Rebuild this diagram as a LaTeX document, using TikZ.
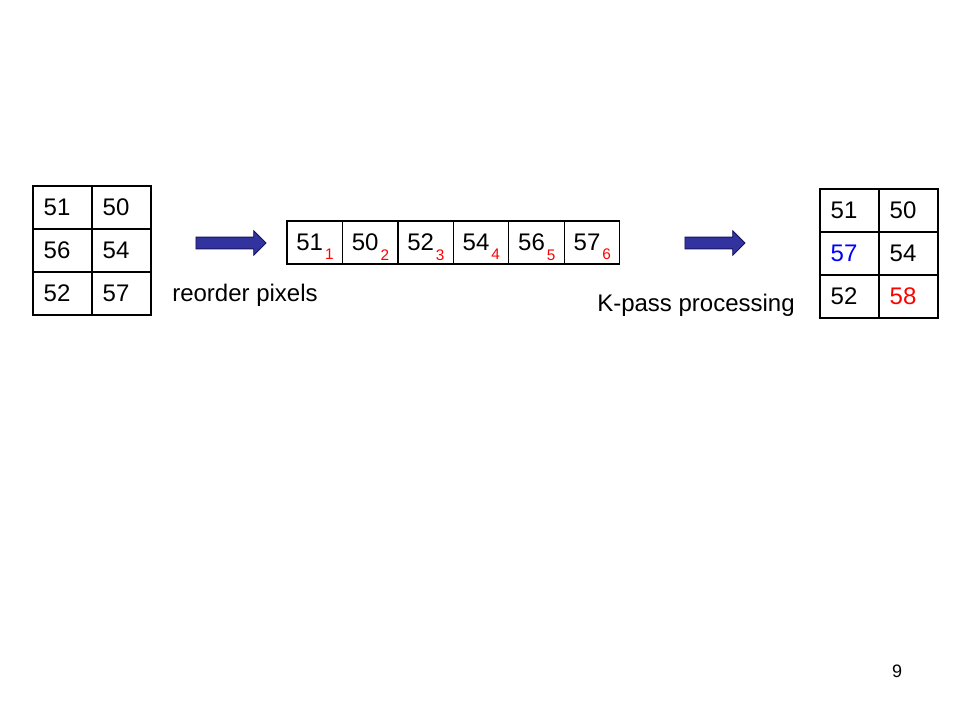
\documentclass[tikz,border=0pt]{standalone}
\usepackage{fontspec}
\setmainfont{Liberation Sans}
\usetikzlibrary{positioning,shapes.arrows}
\definecolor{arrowblue}{RGB}{51,51,160}
\definecolor{arrowedge}{RGB}{20,20,90}

\tikzset{
	cell/.style={draw, line width=0.9pt, outer sep=0pt, inner xsep=8pt, inner ysep=0pt,
		text width=28.25pt, minimum height=32.25pt, align=left, font=\fontsize{18}{21}\selectfont},
	seqcell/.style={cell, inner xsep=7pt, text width=27.6pt},
	bigarrow/.style={single arrow, draw=arrowedge, fill=arrowblue, line width=0.6pt, inner xsep=0pt, inner ysep=4.1pt,
		single arrow head extend=4.8pt, single arrow head indent=0pt, minimum width=17.25pt},
	caption/.style={font=\fontsize{18}{21}\selectfont, inner sep=0pt}
}
\newcommand{\idx}[1]{\makebox[0pt][l]{\hspace{1.5pt}\textcolor{red}{\fontsize{11.5}{13}\selectfont\smash{\raisebox{-7pt}{#1}}}}}

\begin{document}
\begin{tikzpicture}[x=0.75pt, y=-0.75pt]
	\useasboundingbox (0,0) rectangle (960,720);

	\node[cell, anchor=north west] (a11) at (33,186) {51};
	\node[cell, right=0pt of a11] (a12) {50};
	\node[cell, below=0pt of a11] (a21) {56};
	\node[cell, right=0pt of a21] (a22) {54};
	\node[cell, below=0pt of a21] (a31) {52};
	\node[cell, right=0pt of a31] (a32) {57};

	\node[bigarrow, minimum height=52.5pt] (arr1) at (228,243) {};
	\node[caption, anchor=west] (reorder) at (172,295) {reorder pixels};

	\node[seqcell, anchor=north west] (s1) at (287,221) {51\idx{1}};
	\node[seqcell, right=0pt of s1] (s2) {50\idx{2}};
	\node[seqcell, right=0pt of s2] (s3) {52\idx{3}};
	\node[seqcell, right=0pt of s3] (s4) {54\idx{4}};
	\node[seqcell, right=0pt of s4] (s5) {56\idx{5}};
	\node[seqcell, right=0pt of s5] (s6) {57\idx{6}};

	\node[bigarrow, minimum height=45pt] (arr2) at (712,243) {};
	\node[caption, anchor=west] (kpass) at (597,305) {K-pass processing};

	\node[cell, anchor=north west] (b11) at (820,189) {51};
	\node[cell, right=0pt of b11] (b12) {50};
	\node[cell, below=0pt of b11, text=blue] (b21) {57};
	\node[cell, right=0pt of b21] (b22) {54};
	\node[cell, below=0pt of b21] (b31) {52};
	\node[cell, right=0pt of b31, text=red] (b32) {58};

	\node[font=\fontsize{13.5}{16}\selectfont] (page) at (897,671) {9};
\end{tikzpicture}
\end{document}
